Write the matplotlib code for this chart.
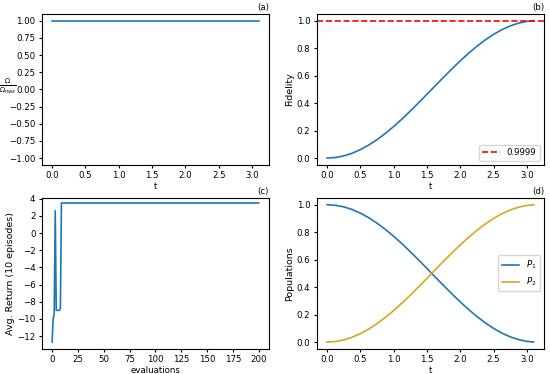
import matplotlib
matplotlib.use("Agg")
import matplotlib.pyplot as plt

# tiempo de la evolucion
t = [0.0, 0.125, 0.25, 0.375, 0.5, 0.625, 0.75, 0.875, 1.0, 1.125, 1.25,
     1.375, 1.5, 1.625, 1.75, 1.875, 2.0, 2.125, 2.25, 2.375, 2.5, 2.625,
     2.75, 2.875, 3.0, 3.1]

# pulso normalizado (constante)
omega = [1.0] * len(t)

# fidelidad / poblacion del nivel 2
fidelidad = [0.0, 0.0039, 0.0155, 0.0347, 0.0612, 0.0945, 0.1342, 0.1795,
             0.2298, 0.2844, 0.3423, 0.4028, 0.4646, 0.5269, 0.5891, 0.6497,
             0.7081, 0.7631, 0.8141, 0.8601, 0.9006, 0.9347, 0.9620, 0.9821,
             0.9950, 0.9996]
p2 = fidelidad
p1 = [1.0, 0.9961, 0.9845, 0.9653, 0.9388, 0.9055, 0.8658, 0.8205, 0.7702,
      0.7156, 0.6577, 0.5972, 0.5354, 0.4731, 0.4109, 0.3503, 0.2919,
      0.2369, 0.1859, 0.1399, 0.0994, 0.0653, 0.0380, 0.0179, 0.0050, 0.0004]

umbral = 0.9999

# retorno promedio por evaluacion
evaluaciones = list(range(201))
retorno = [-12.7, -10.0, -9.4, 2.6, -9.0, -9.0, -9.0, -9.0, -8.8] + [3.5] * 192

fig, axs = plt.subplots(2, 2, figsize=(5.5, 3.74), dpi=100)
fig.subplots_adjust(left=0.076, right=0.989, top=0.963, bottom=0.067,
                    wspace=0.21, hspace=0.218)

TICK = 6.2
LAB = 6.8

# (a) pulso
ax = axs[0, 0]
ax.plot(t, omega, color="tab:blue", lw=1.2)
ax.set_ylim(-1.1, 1.1)
ax.set_yticks([-1.0, -0.75, -0.5, -0.25, 0.0, 0.25, 0.5, 0.75, 1.0])
ax.set_xlabel("t", fontsize=TICK, labelpad=1)
# etiqueta horizontal en forma de fraccion
ax.text(-0.15, 0.52, r"$\frac{\Omega}{\Omega_{max}}$", fontsize=7,
        rotation=0, ha="center", va="center", transform=ax.transAxes)
ax.set_title("(a)", loc="right", fontsize=TICK, pad=3)

# (b) fidelidad
ax = axs[0, 1]
ax.plot(t, fidelidad, color="tab:blue", lw=1.2)
ax.axhline(umbral, color="red", ls="--", lw=1.2, label="0.9999")
ax.set_xlabel("t", fontsize=TICK, labelpad=1)
ax.set_ylabel("Fidelity", fontsize=LAB, labelpad=2)
ax.set_title("(b)", loc="right", fontsize=TICK, pad=3)
ax.legend(loc="lower right", fontsize=TICK)

# (c) retorno
ax = axs[1, 0]
ax.plot(evaluaciones, retorno, color="tab:blue", lw=1.2)
ax.set_ylim(-13.5, 4.1)
ax.set_yticks(range(-12, 5, 2))
ax.set_xticks(range(0, 201, 25))
ax.set_xlabel("evaluations", fontsize=TICK, labelpad=1)
ax.set_ylabel("Avg. Return (10 episodes)", fontsize=LAB, labelpad=2)
ax.set_title("(c)", loc="right", fontsize=TICK, pad=3)

# (d) poblaciones
ax = axs[1, 1]
ax.plot(t, p1, color="tab:blue", lw=1.2, label=r"$P_1$")
ax.plot(t, p2, color="goldenrod", lw=1.2, label=r"$P_2$")
ax.set_xlabel("t", fontsize=TICK, labelpad=1)
ax.set_ylabel("Populations", fontsize=LAB, labelpad=2)
ax.set_title("(d)", loc="right", fontsize=TICK, pad=3)
ax.legend(loc="center right", fontsize=TICK)

for ax in axs.flat:
    ax.tick_params(labelsize=TICK, length=2.5, pad=2)

fig.savefig("out.png", dpi=100)
